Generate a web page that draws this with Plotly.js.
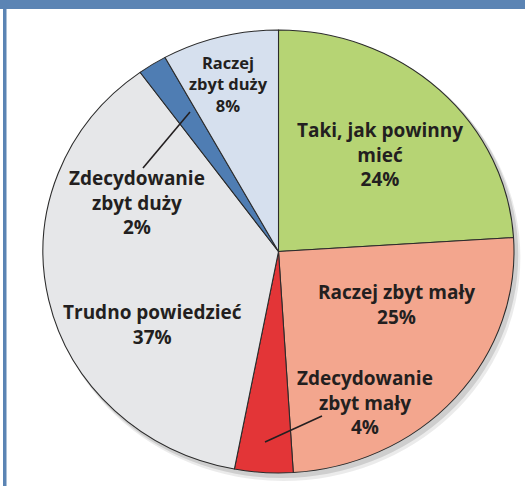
<!DOCTYPE html>
<html>
<head>
<meta charset="utf-8">
<script src="https://cdn.plot.ly/plotly-3.0.1.min.js"></script>
<style>
html,body{margin:0;padding:0;background:#fff;}
#wrap{position:relative;width:525px;height:486px;overflow:hidden;}
#pie,#labels{position:absolute;left:0;top:0;width:525px;height:486px;}
#pie{transform-origin:278.5px 0;transform:scaleX(1.0632);}
</style>
</head>
<body>
<div id="wrap"><div id="pie"></div><div id="labels"></div></div>
<script>
const categories = ["Taki, jak powinny mieć", "Raczej zbyt mały", "Zdecydowanie zbyt mały", "Trudno powiedzieć", "Zdecydowanie zbyt duży", "Raczej zbyt duży"];
const values = [24, 25, 4, 37, 2, 8];
const labelLines = [["Taki, jak powinny", "mieć"], ["Raczej zbyt mały"], ["Zdecydowanie", "zbyt mały"], ["Trudno powiedzieć"], ["Zdecydowanie", "zbyt duży"], ["Raczej", "zbyt duży"]];
const colors = ["#b6d474", "#f3a68e", "#e33537", "#e6e7e9", "#4f7db3", "#d6e0ee"];

const W = 525, H = 486;
const cx = 278.5, cy = 251.5, R = 221.5;
const px = x => x / W;
const py = y => 1 - y / H;

// label anchor positions (pixels) and font sizes
const labelPos = [[380, 154, 19], [396, 304, 19], [365, 402, 19], [152, 324, 19], [137, 202, 19], [228, 84, 16.5]];

const annotations = categories.map((c, i) => ({
  xref: "paper", yref: "paper",
  x: px(labelPos[i][0]), y: py(labelPos[i][1]),
  xanchor: "center", yanchor: "middle",
  showarrow: false, align: "center",
  text: labelLines[i].concat([values[i] + "%"]).map(s => "<b>" + s + "</b>").join("<br>"),
  font: {family: "Open Sans, Noto Sans, sans-serif", size: labelPos[i][2], color: "#231f20"}
}));

const shadowShapes = [
  {type: "circle", xref: "paper", yref: "paper", layer: "below",
   x0: px(cx - R + 3), x1: px(cx + R + 6), y0: py(cy + R + 8), y1: py(cy - R + 4),
   fillcolor: "rgba(0,0,0,0.08)", line: {width: 0}},
  {type: "circle", xref: "paper", yref: "paper", layer: "below",
   x0: px(cx - R + 2), x1: px(cx + R + 4), y0: py(cy + R + 5), y1: py(cy - R + 2),
   fillcolor: "rgba(0,0,0,0.12)", line: {width: 0}}
];

const topShapes = [
  {type: "rect", xref: "paper", yref: "paper", x0: 0, x1: 1, y0: py(9), y1: 1, fillcolor: "#5b84b4", line: {width: 0}},
  {type: "rect", xref: "paper", yref: "paper", x0: px(3), x1: px(6.5), y0: 0, y1: 1, fillcolor: "#5b84b4", line: {width: 0}},
  {type: "line", xref: "paper", yref: "paper", x0: px(265), y0: py(442), x1: px(322), y1: py(416), line: {color: "#231f20", width: 1.6}},
  {type: "line", xref: "paper", yref: "paper", x0: px(190), y0: py(112), x1: px(143), y1: py(168), line: {color: "#231f20", width: 1.6}}
];

const data = [{
  type: "pie",
  labels: categories,
  values: values,
  sort: false,
  direction: "clockwise",
  rotation: 0,
  textinfo: "none",
  hoverinfo: "label+percent",
  marker: {colors: colors, line: {color: "#2b2b2b", width: 1}},
  domain: {x: [px(cx - R), px(cx + R)], y: [py(cy + R), py(cy - R)]},
  showlegend: false
}];

Plotly.newPlot("pie", data, {
  width: W, height: H,
  margin: {l: 0, r: 0, t: 0, b: 0},
  paper_bgcolor: "#ffffff",
  showlegend: false,
  shapes: shadowShapes
}, {displayModeBar: false, staticPlot: true});

Plotly.newPlot("labels", [], {
  width: W, height: H,
  margin: {l: 0, r: 0, t: 0, b: 0},
  paper_bgcolor: "rgba(0,0,0,0)",
  plot_bgcolor: "rgba(0,0,0,0)",
  xaxis: {visible: false}, yaxis: {visible: false},
  showlegend: false,
  annotations: annotations,
  shapes: topShapes
}, {displayModeBar: false, staticPlot: true});
</script>
</body>
</html>
